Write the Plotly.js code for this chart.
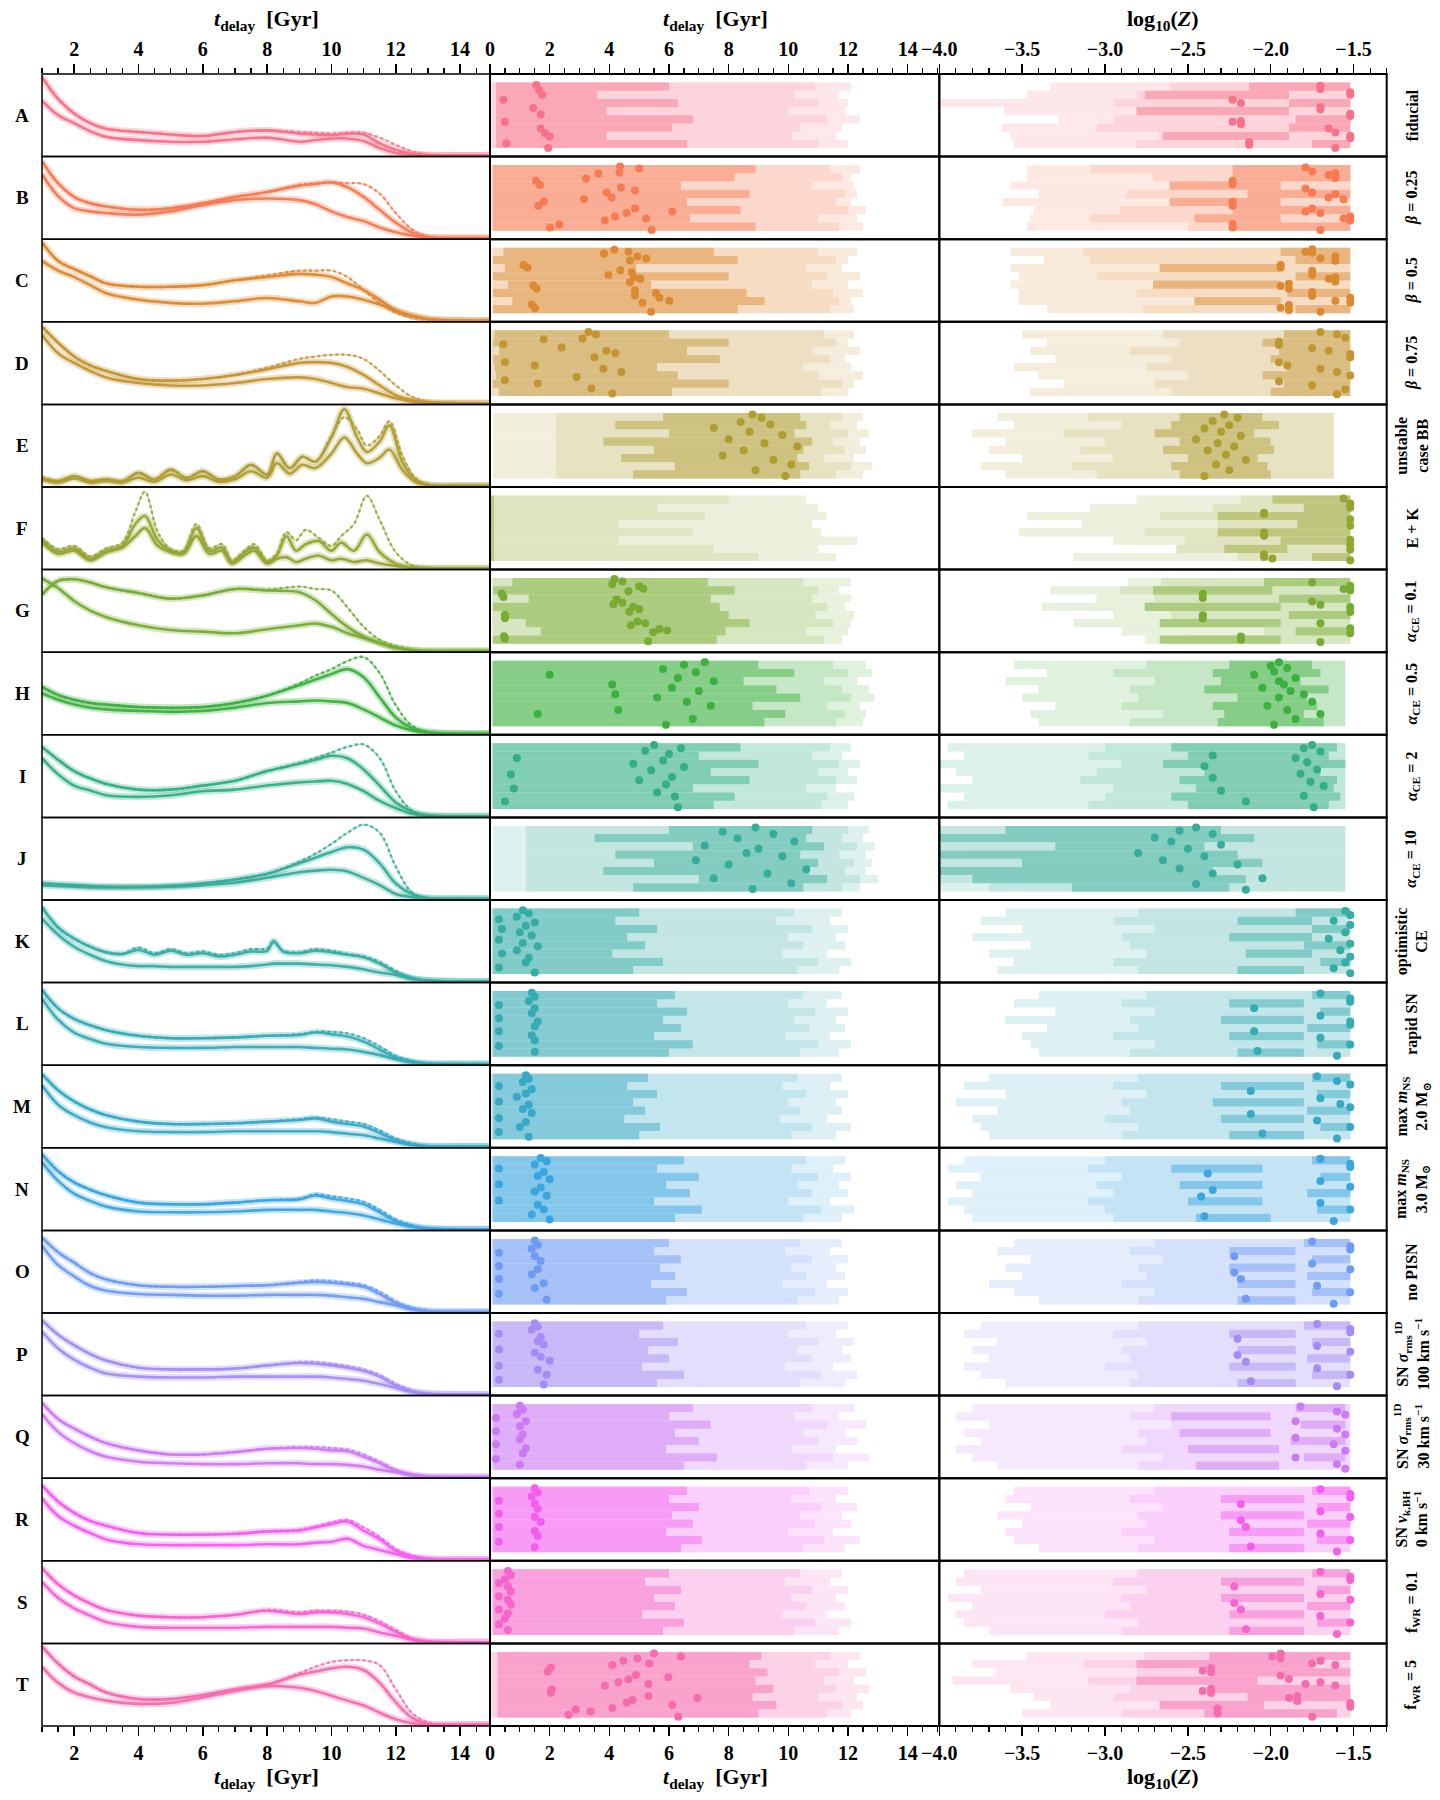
<!DOCTYPE html>
<html>
<head>
<meta charset="utf-8">
<script src="https://cdn.plot.ly/plotly-3.0.1.min.js"></script>
<style>body{margin:0;background:#fff}</style>
</head>
<body>
<div id="fig" style="width:1440px;height:1800px"></div>
<script>
var rows = ['A','B','C','D','E','F','G','H','I','J','K','L','M','N','O','P','Q','R','S','T'];
var labels = [
  'fiducial', '<i>β</i> = 0.25', '<i>β</i> = 0.5', '<i>β</i> = 0.75', 'unstable<br>case BB', 'E + K',
  '<i>α</i><sub>CE</sub> = 0.1', '<i>α</i><sub>CE</sub> = 0.5', '<i>α</i><sub>CE</sub> = 2', '<i>α</i><sub>CE</sub> = 10',
  'optimistic<br>CE', 'rapid SN', 'max <i>m</i><sub>NS</sub><br>2.0 M<sub>⊙</sub>', 'max <i>m</i><sub>NS</sub><br>3.0 M<sub>⊙</sub>',
  'no PISN', 'SN <i>σ</i><sub>rms</sub><sup>1D</sup><br>100 km s<sup>−1</sup>', 'SN <i>σ</i><sub>rms</sub><sup>1D</sup><br>30 km s<sup>−1</sup>',
  'SN <i>v</i><sub>k,BH</sub><br>0 km s<sup>−1</sup>', 'f<sub>WR</sub> = 0.1', 'f<sub>WR</sub> = 5'
];
var colors = ['#f77189','#f67a52','#dc8932','#c39532','#ae9d31','#97a431','#77ab31','#3cb03e','#34ae87','#36ad9a',
              '#36ada4','#37abb4','#38a9c5','#3aa5df','#6e9bf4','#a48cf4','#cc7af4','#f35ef0','#f565cc','#f66bad'];

// left column: delay-time distributions (0-100 = panel height)
var tGrid = [1,1.5,2,2.5,3,4,5,6,7,8,9,9.5,10,10.5,11,11.5,12,12.5,13,14,15];
var eGrid = [1,1.5,2,2.5,3,3.5,4,4.5,5,5.5,6,6.5,7,7.5,8,8.3,8.7,9.1,9.5,10,10.4,10.8,11.1,11.5,11.8,12.2,12.6,13,14,15];
var fGrid = [1,1.5,2,2.5,3,3.5,3.9,4.2,4.6,5,5.4,5.8,6.2,6.6,6.9,7.3,7.6,8,8.3,8.6,8.9,9.2,9.6,10,10.3,10.7,11.1,11.5,12,12.5,13,14,15];
var kGrid = [1,1.5,2,2.5,3,3.5,4,4.5,5,5.5,6,6.5,7,7.5,8,8.2,8.5,9,9.5,10,10.5,11,11.5,12,12.5,13,14,15];
var leftGrid = [tGrid,tGrid,tGrid,tGrid,eGrid,fGrid,tGrid,tGrid,tGrid,tGrid,kGrid,tGrid,tGrid,tGrid,tGrid,tGrid,tGrid,tGrid,tGrid,tGrid];

var leftUp = [
  [97,70,52,40,33,29,26,24,29,31,27,26,25,27,26,15,7,2,0.5,0,0],
  [95,68,51,43,39,35,37,43,51,57,65,67,69,63,51,35,19,7,1,0,0],
  [97,74,64,55,46,42,42,44,50,54,58,57,54,46,38,26,13,6,2,0,0],
  [95,75,58,47,40,30,28,30,35,42,50,51,50,45,35,22,10,4,1,0,0],
  [10,6,12,6,8,6,16,8,20,10,18,8,12,26,14,40,22,36,30,60,95,60,42,55,75,30,8,1,0,0],
  [35,21,25,12,22,28,55,65,35,22,20,50,22,26,8,20,26,8,16,40,22,30,34,22,32,22,42,20,6,1,0,0,0],
  [70,87,89,85,79,72,65,69,77,75,73,63,46,30,18,10,4,1,0,0,0],
  [58,48,42,38,36,33,32,33,38,47,60,67,74,80,70,45,20,7,2,0,0],
  [86,70,56,47,40,33,33,38,44,56,65,70,75,72,58,38,17,6,1,0,0],
  [19,18,17,16,15,15,16,19,24,31,44,51,58,64,61,44,19,6,1,0,0],
  [92,67,53,43,36,34,39,33,38,33,35,31,33,37,38,50,37,35,38,36,33,30,22,11,4,1,0,0],
  [92,69,56,48,42,35,32,32,33,35,36,39,37,34,28,18,8,3,0.5,0,0],
  [90,70,56,46,39,31,28,28,29,31,33,35,31,28,25,17,8,3,0.5,0,0],
  [93,72,58,49,42,33,31,31,33,36,37,42,38,35,31,21,10,4,1,0,0],
  [92,74,61,48,40,33,31,31,32,33,36,37,36,34,31,22,11,4,1,0,0],
  [92,74,61,50,42,33,31,31,32,36,39,38,36,33,29,22,11,4,1,0,0],
  [92,72,60,50,42,33,28,28,31,35,36,35,33,32,25,17,8,3,0.5,0,0],
  [92,72,58,48,42,33,31,31,32,35,36,40,44,47,36,25,11,4,1,0,0],
  [92,72,58,48,40,33,31,31,34,39,35,37,37,35,31,23,13,4,1,0,0],
  [97,76,60,50,40,32,32,37,44,50,62,66,70,72,68,52,28,9,1,0,0]
];
var leftLo = [
  [68,50,40,30,23,19,17,17,20,22,17,19,21,21,18,9,3,1,0,0,0],
  [79,52,37,33,31,29,33,41,47,49,47,42,33,26,21,13,7,3,0.5,0,0],
  [74,62,54,44,34,26,22,21,24,28,24,22,30,30,26,20,12,6,2,0,0],
  [85,62,50,40,32,25,22,22,25,30,32,30,25,20,18,12,6,2,0.5,0,0],
  [8,4,9,4,6,4,10,5,14,7,12,5,8,18,10,28,15,26,22,40,60,40,28,35,45,20,5,1,0,0],
  [33,18,22,10,20,26,40,50,28,20,18,40,18,22,6,16,22,6,12,14,8,12,16,10,12,8,10,6,3,1,0,0,0],
  [90,78,62,50,42,32,26,24,22,27,32,34,30,22,16,10,4,1,0,0,0],
  [50,42,36,32,30,28,27,28,32,38,40,41,40,38,30,20,10,4,1,0,0],
  [72,52,38,32,26,24,26,31,33,38,42,43,44,40,31,19,10,3,0.5,0,0],
  [17,16,15,14,14,14,15,17,20,26,33,35,36,34,26,17,6,2,0,0,0],
  [78,58,43,33,25,21,19,19,18,18,18,18,18,19,21,22,22,22,21,20,18,15,11,8,3,1,0,0],
  [81,55,39,31,25,21,20,20,21,21,21,20,19,18,15,11,6,2,0,0,0],
  [76,52,39,30,24,19,18,18,19,19,19,19,18,16,14,10,6,2,0,0,0],
  [83,60,44,35,28,22,21,21,22,24,24,24,22,20,17,12,7,3,0.5,0,0],
  [82,58,44,32,26,22,21,20,20,21,21,21,20,18,16,12,8,3,0.5,0,0],
  [78,57,43,33,26,22,21,21,22,22,22,22,21,19,17,13,8,3,0.5,0,0],
  [78,56,42,32,25,19,17,16,16,17,17,16,16,15,13,9,6,2,0,0,0],
  [76,54,42,33,25,19,18,18,18,19,19,21,22,26,17,12,7,2,0,0,0],
  [75,55,42,33,25,19,18,18,18,19,19,19,19,18,17,12,8,3,0,0,0],
  [72,52,40,34,30,26,27,34,42,48,46,42,36,30,24,15,7,2,0,0,0]
];
var leftTail = [
  [97,70,52,40,33,29,26,24,29,31,29,28,27,28,28,22,13,5,1,0,0],
  [95,68,51,43,39,35,37,43,51,57,66,68,69,68,67,55,31,11,2,0,0],
  [97,74,64,55,46,42,42,44,50,56,62,62,62,54,38,22,10,4,1,0,0],
  [95,75,58,47,40,30,28,30,35,44,55,58,60,60,55,40,22,8,2,0,0],
  [10,6,12,6,8,6,16,8,20,10,18,8,12,26,14,40,22,36,30,62,85,70,50,62,80,38,10,2,0,0],
  [38,24,28,15,25,32,70,95,45,24,22,55,25,30,10,22,30,10,18,45,35,48,38,28,40,55,90,60,20,4,1,0,0],
  [70,87,89,85,79,72,65,69,77,76,80,77,75,54,30,14,6,2,0,0,0],
  [58,48,42,38,36,33,32,33,38,47,62,72,80,90,95,75,35,10,2,0,0],
  [86,70,56,47,40,33,33,38,44,56,66,72,79,86,89,72,31,7,1,0,0],
  [19,18,17,16,15,15,16,19,24,31,46,56,68,82,92,82,40,8,1,0,0],
  [92,67,53,43,36,34,42,35,40,35,37,33,35,40,41,48,38,36,40,38,34,31,24,13,5,1,0,0],
  [92,69,56,48,42,35,32,32,33,35,37,40,40,38,32,22,10,4,1,0,0],
  [90,70,56,46,39,31,28,28,29,31,34,36,34,31,28,20,10,4,1,0,0],
  [93,72,58,49,42,33,31,31,33,36,38,43,41,38,34,24,12,5,1,0,0],
  [92,74,61,48,40,33,31,31,32,33,37,39,38,36,33,25,13,5,1,0,0],
  [92,74,61,50,42,33,31,31,32,36,40,40,38,35,31,24,13,5,1,0,0],
  [92,72,60,50,42,33,28,28,31,35,37,37,36,34,28,19,9,3,1,0,0],
  [92,72,58,48,42,33,31,31,32,35,37,41,46,49,40,28,13,5,1,0,0],
  [92,72,58,48,40,33,31,31,34,40,37,39,39,38,34,26,15,5,1,0,0],
  [97,76,60,50,40,32,32,37,44,50,64,72,78,80,80,74,44,15,3,0,0]
];

// middle column: delay-time intervals, 8 bars per row (top to bottom), Gyr
var midLightStart = [0.05,0.05,0.08,0.05,0.1,0.1,0.08,0.05,0.05,0.1,0.05,0.05,0.05,0.05,0.05,0.05,0.05,0.05,0.05,0.05];
var midMidStart = [0.05,0.05,0.08,0.05,2.2,0.1,0.08,0.05,0.05,1.2,0.05,0.05,0.05,0.05,0.05,0.05,0.05,0.05,0.05,0.05];
var midDarkStart = [
  [0.2,0.2,0.2,0.2,0.2,0.2,0.2,0.2],
  [0.1,0.1,0.1,0.1,0.1,0.1,0.1,0.1],
  [0.45,0.1,0.5,0.1,0.6,0.1,0.75,0.1],
  [0.15,0.1,0.3,0.1,0.15,0.2,0.1,0.3],
  [5.8,4.2,6.0,3.8,5.5,4.4,6.2,4.8],
  [0.02,0.02,0.02,0.02,0.02,0.02,0.02,0.02],
  [0.75,0.1,1.3,0.1,0.5,1.2,1.7,0.1],
  [0.1,0.1,0.1,0.1,0.1,0.1,0.1,0.1],
  [0.1,0.1,0.1,0.1,0.1,0.1,0.1,0.1],
  [6.0,3.5,6.8,4.2,5.5,3.8,7.0,4.8],
  [0.1,0.1,0.1,0.1,0.1,0.1,0.1,0.1],
  [0.1,0.1,0.1,0.1,0.1,0.1,0.1,0.1],
  [0.1,0.1,0.1,0.1,0.1,0.1,0.1,0.1],
  [0.1,0.1,0.1,0.1,0.1,0.1,0.1,0.1],
  [0.1,0.1,0.1,0.1,0.1,0.1,0.1,0.1],
  [0.1,0.1,0.1,0.1,0.1,0.1,0.1,0.1],
  [0.1,0.1,0.1,0.1,0.1,0.1,0.1,0.1],
  [0.1,0.1,0.1,0.1,0.1,0.1,0.1,0.1],
  [0.1,0.1,0.1,0.1,0.1,0.1,0.1,0.1],
  [0.25,0.25,0.25,0.25,0.25,0.25,0.25,0.25]
];
var midDarkEnd = [
  [6.0,3.6,6.3,3.9,6.8,6.1,3.9,6.6],
  [8.9,8.2,6.4,8.7,6.6,8.4,6.7,8.9],
  [7.5,8.3,4.9,8.0,5.4,8.6,9.2,8.3],
  [6.0,8.0,6.6,7.7,5.6,6.3,8.0,6.1],
  [10.4,10.6,10.2,10.8,10.5,10.3,10.7,10.4],
  [0.14,0.14,0.14,0.14,0.14,0.14,0.14,0.14],
  [7.3,8.2,7.4,7.7,8.0,8.7,7.9,7.6],
  [9.0,10.2,8.5,9.6,10.4,8.8,9.9,9.2],
  [8.4,7.0,9.0,7.4,8.7,6.8,8.2,7.5],
  [10.8,10.6,11.2,10.4,11.0,10.7,11.3,10.5],
  [5.0,4.2,5.6,4.6,5.2,4.1,5.8,4.8],
  [6.2,5.6,6.6,5.8,6.4,5.5,6.8,6.0],
  [5.3,4.6,5.6,4.8,5.2,4.5,5.7,5.0],
  [6.5,5.6,7.0,5.9,6.7,5.5,7.1,6.2],
  [6.0,5.5,6.4,5.7,6.2,5.4,6.6,5.9],
  [5.8,5.0,6.3,5.3,6.0,5.1,6.5,5.6],
  [6.8,6.0,7.4,6.2,7.0,5.9,7.6,6.5],
  [6.6,6.0,7.0,6.1,6.8,5.9,7.1,6.4],
  [6.0,5.2,6.4,5.5,6.2,5.1,6.5,5.8],
  [9.1,8.7,9.3,8.9,9.5,8.8,9.6,9.0]
];
var midMidEnd = [
  [10.9,10.2,11.0,10.0,11.3,10.4,10.1,11.0],
  [11.4,11.8,10.8,11.9,11.6,12.0,11.0,11.7],
  [11.0,11.6,10.6,11.3,10.8,11.5,11.7,11.4],
  [11.2,11.6,10.8,11.4,10.5,11.0,11.8,11.1],
  [11.8,11.4,12.0,11.5,11.9,11.2,12.1,11.6],
  [8.0,5.6,7.2,4.3,6.8,4.3,7.5,9.0],
  [10.5,11.0,10.8,11.3,10.9,11.5,10.6,11.2],
  [11.5,12.0,11.2,11.8,12.1,11.3,11.9,11.6],
  [11.4,10.8,11.7,11.0,11.6,10.6,11.3,11.1],
  [12.0,11.8,12.3,11.7,12.2,11.9,12.4,11.8],
  [10.2,9.6,10.8,10.0,10.5,9.8,11.0,10.3],
  [10.5,10.0,10.9,10.2,10.7,9.9,11.0,10.4],
  [10.3,9.8,10.6,10.0,10.4,9.7,10.8,10.1],
  [10.6,10.1,11.0,10.3,10.8,10.0,11.1,10.5],
  [10.4,9.9,10.8,10.1,10.6,9.8,10.9,10.3],
  [10.6,10.0,11.0,10.3,10.8,9.9,11.1,10.4],
  [10.8,10.2,11.3,10.5,11.0,10.1,11.5,10.6],
  [10.7,10.1,11.1,10.4,10.9,10.0,11.2,10.5],
  [10.4,9.9,10.8,10.1,10.6,9.8,10.9,10.2],
  [11.4,10.9,11.7,11.2,11.6,11.0,11.8,11.3]
];
var midLightEnd = [
  [12.1,11.7,12.0,11.9,12.4,11.8,11.6,12.0],
  [12.4,12.1,12.2,12.3,12.1,12.6,12.3,12.5],
  [12.3,12.0,11.8,12.4,12.0,12.5,12.1,12.2],
  [12.2,12.0,12.4,11.9,12.1,12.5,12.2,12.0],
  [12.5,12.3,12.7,12.4,12.6,12.2,12.8,12.5],
  [10.6,11.0,11.3,10.8,11.1,12.3,11.0,11.6],
  [12.1,11.7,12.1,11.9,12.2,12.1,12.0,11.8],
  [12.6,12.8,12.3,12.7,12.9,12.4,12.6,12.5],
  [12.1,11.8,12.4,12.0,12.3,11.6,12.2,12.0],
  [12.7,12.5,12.9,12.6,12.8,12.6,13.0,12.4],
  [11.8,11.4,12.0,11.6,11.9,11.3,12.1,11.7],
  [11.8,11.3,12.0,11.6,11.9,11.4,12.1,11.7],
  [11.8,11.4,12.0,11.6,11.8,11.3,12.1,11.6],
  [11.9,11.5,12.1,11.7,12.0,11.4,12.2,11.8],
  [11.8,11.4,12.0,11.6,11.9,11.3,12.0,11.7],
  [12.0,11.6,12.2,11.8,12.1,11.5,12.3,11.9],
  [12.2,11.7,12.6,11.9,12.3,11.6,12.7,12.0],
  [12.0,11.6,12.3,11.8,12.1,11.5,12.4,11.9],
  [11.8,11.4,12.0,11.6,11.9,11.3,12.1,11.7],
  [12.4,12.0,12.6,12.2,12.7,12.3,12.5,12.1]
];
var midDotX = [
  [1.55,1.65,1.75,0.45,1.45,1.7,0.5,1.7,1.85,2.0,0.55,1.95],
  [4.36,5.0,4.34,3.63,3.22,1.54,1.68,4.39,4.86,3.91,4.08,3.15,1.81,1.62,4.86,4.58,6.11,4.19,5.23,3.85,2.32,2.01,5.42],
  [3.82,4.17,4.64,4.69,4.94,5.24,1.12,1.26,3.97,4.37,4.75,4.83,5.04,4.69,1.45,1.56,4.86,4.86,5.56,5.68,6.01,5.11,1.4,1.51,5.4],
  [3.3,3.55,3.1,1.8,0.45,2.4,3.9,4.2,3.5,0.5,1.5,3.8,4.4,2.9,0.5,1.6,3.4,4.1],
  [8.8,9.1,8.4,9.4,7.5,8.7,9.8,8.0,9.2,10.3,8.5,7.8,9.5,10.1,8.9,9.9],
  [],
  [4.17,4.1,4.44,5.0,5.14,4.64,0.39,0.45,4.24,4.13,4.44,4.8,4.67,5.0,0.5,0.5,4.94,4.72,5.2,5.47,5.68,5.94,0.47,0.5,5.3],
  [7.2,6.5,5.8,6.9,2.0,6.3,7.5,4.1,6.1,7.0,4.2,5.6,6.6,7.4,4.3,1.6,6.8,5.9],
  [5.5,6.4,5.2,6.0,0.9,5.8,4.8,6.5,5.4,0.7,6.1,5.0,5.9,0.8,5.6,6.2,0.5,6.3],
  [8.9,7.8,9.5,8.3,10.2,7.2,9.0,8.6,9.8,6.9,8.0,10.6,9.3,7.5,10.1,8.8],
  [1.1,1.3,0.9,0.3,1.5,1.2,0.4,1.0,1.4,0.3,1.1,1.6,0.9,0.4,1.3,1.2,0.3,1.5],
  [1.4,1.5,1.3,0.3,1.5,1.4,0.3,1.6,1.5,0.3,1.4,1.5,0.3,1.5],
  [1.2,1.3,1.1,0.3,1.4,1.2,0.9,0.3,1.3,1.1,1.4,0.3,1.2,1.0,0.3,1.3],
  [1.7,1.9,1.5,0.3,1.8,1.6,2.0,0.3,1.7,1.5,1.9,0.3,1.6,1.8,1.4,2.0],
  [1.5,1.6,1.4,0.3,1.5,1.7,0.3,1.6,1.4,0.3,1.8,1.5,0.3,1.9],
  [1.5,1.6,1.4,0.3,1.7,1.6,1.8,0.3,1.5,1.7,2.0,0.3,1.6,1.9,0.3,1.8],
  [1.0,1.1,0.9,0.2,1.2,1.0,0.2,1.1,1.0,0.2,1.2,1.1,0.2,1.0],
  [1.5,1.6,1.4,0.3,1.5,1.6,0.3,1.5,1.7,0.3,1.5,1.6,0.3,1.5],
  [0.6,0.7,0.5,0.3,0.6,0.7,0.3,0.6,0.7,0.3,0.6,0.5,0.3,0.6],
  [5.5,6.4,4.94,4.47,5.34,4.1,2.04,1.93,4.89,4.64,4.3,5.31,3.85,5.98,2.07,2.04,5.31,6.95,4.78,4.58,6.11,4.1,2.87,3.37,2.63,6.31]
];
var midDotY = [
  [-0.2,0.4,1.0,1.6,2.6,3.4,4.3,5.1,5.7,6.1,6.9,7.5],
  [-0.34,-0.1,0.39,0.52,1.13,1.41,1.94,2.22,2.59,2.83,3.44,3.65,3.93,4.46,4.78,5.35,5.15,5.76,6.0,6.25,6.74,7.1,7.43],
  [0.22,-0.26,-0.02,1.06,0.58,0.82,1.62,1.9,2.82,2.26,2.5,3.1,3.3,3.7,4.1,4.5,4.7,5.3,5.02,5.62,5.98,6.22,6.42,6.9,7.3],
  [-0.3,0.0,0.5,0.6,1.2,1.6,2.0,2.3,2.8,3.4,3.8,4.2,4.6,5.2,5.6,6.0,6.6,7.2],
  [-0.3,0.1,0.6,0.9,1.3,1.8,2.2,2.7,3.2,3.6,4.1,4.7,5.2,5.8,6.5,7.2],
  [],
  [-0.38,0.24,-0.1,0.5,0.81,1.1,1.4,1.8,2.1,2.7,2.5,2.98,3.6,3.3,4.0,4.4,4.8,5.26,5.0,6.1,5.7,5.9,6.6,6.9,7.2],
  [-0.3,0.0,0.5,0.9,1.2,1.6,2.0,2.4,2.8,3.2,3.6,4.0,4.5,5.0,5.5,6.0,6.6,7.3],
  [-0.3,0.1,0.4,0.8,1.3,1.6,2.0,2.4,2.8,3.3,3.6,4.0,4.5,5.0,5.5,6.0,6.6,7.3],
  [-0.3,0.2,0.5,1.0,1.4,1.9,2.3,2.8,3.2,3.7,4.2,4.8,5.3,5.9,6.5,7.2],
  [-0.3,0.1,0.5,0.8,1.2,1.6,2.0,2.4,2.8,3.3,3.7,4.1,4.6,5.0,5.5,6.1,6.7,7.3],
  [-0.3,0.2,0.7,1.2,1.6,2.2,2.8,3.2,3.8,4.4,4.9,5.5,6.2,6.9],
  [-0.3,0.1,0.5,1.0,1.4,1.9,2.3,2.9,3.3,3.8,4.3,4.9,5.4,6.0,6.6,7.2],
  [-0.3,0.1,0.5,1.0,1.4,1.9,2.3,2.9,3.3,3.8,4.3,4.9,5.4,6.0,6.6,7.2],
  [-0.3,0.2,0.7,1.2,1.6,2.2,2.8,3.2,3.8,4.4,4.9,5.5,6.2,6.9],
  [-0.3,0.1,0.5,1.0,1.4,1.9,2.3,2.9,3.3,3.8,4.3,4.9,5.4,6.0,6.6,7.2],
  [-0.3,0.2,0.7,1.2,1.6,2.2,2.8,3.2,3.8,4.4,4.9,5.5,6.2,6.9],
  [-0.3,0.2,0.7,1.2,1.6,2.2,2.8,3.2,3.8,4.4,4.9,5.5,6.2,6.9],
  [-0.3,0.2,0.7,1.2,1.6,2.2,2.8,3.2,3.8,4.4,4.9,5.5,6.2,6.9],
  [-0.3,0.06,0.3,0.58,0.9,1.1,1.39,1.9,2.31,2.83,3.19,3.4,3.64,2.6,4.08,4.48,4.88,5.12,5.36,5.68,5.97,6.33,6.53,6.77,7.17,7.41]
];

// right column: log10(Z) intervals, 8 bars per row (top to bottom)
var zEnd = [-1.52,-1.52,-1.52,-1.52,-1.62,-1.52,-1.52,-1.55,-1.55,-1.55,-1.52,-1.52,-1.52,-1.52,-1.52,-1.52,-1.52,-1.52,-1.52,-1.52];
var zLightStart = [
  [-3.33,-3.47,-3.99,-3.61,-3.28,-3.62,-3.57,-3.55],
  [-3.47,-3.47,-3.57,-3.40,-3.62,-3.43,-3.45,-3.47],
  [-3.57,-3.37,-3.57,-3.52,-3.57,-3.52,-3.52,-3.35],
  [-3.50,-3.35,-3.45,-3.30,-3.55,-3.40,-3.25,-3.45],
  [-3.65,-3.55,-3.80,-3.60,-3.70,-3.50,-3.75,-3.60],
  [-2.81,-3.09,-3.47,-3.14,-3.52,-2.95,-2.46,-3.19],
  [-2.86,-3.33,-3.05,-3.38,-2.95,-3.19,-2.90,-2.76],
  [-3.55,-3.35,-3.60,-3.40,-3.50,-3.30,-3.45,-3.40],
  [-3.95,-3.85,-4.00,-3.90,-3.80,-4.00,-3.85,-3.95],
  [-4.00,-4.00,-4.00,-4.00,-4.00,-4.00,-4.00,-4.00],
  [-3.60,-3.75,-3.50,-3.80,-3.45,-3.70,-3.55,-3.65],
  [-3.40,-3.55,-3.30,-3.60,-3.35,-3.50,-3.45,-3.40],
  [-3.70,-3.85,-3.60,-3.90,-3.65,-3.80,-3.75,-3.70],
  [-3.85,-3.95,-3.75,-3.90,-3.80,-3.95,-3.85,-3.80],
  [-3.55,-3.65,-3.45,-3.60,-3.50,-3.70,-3.55,-3.40],
  [-3.75,-3.85,-3.65,-3.80,-3.70,-3.85,-3.75,-3.60],
  [-3.80,-3.90,-3.70,-3.85,-3.75,-3.90,-3.80,-3.65],
  [-3.55,-3.60,-3.45,-3.65,-3.50,-3.60,-3.55,-3.40],
  [-3.85,-3.90,-3.75,-3.95,-3.80,-3.90,-3.85,-3.70],
  [-3.47,-3.80,-3.66,-3.92,-3.57,-3.43,-3.33,-3.50]
];
var zMidStart = [
  [-2.61,-2.81,-2.95,-2.77,-2.95,-3.05,-2.67,-2.81],
  [-3.09,-2.71,-2.61,-2.87,-2.57,-2.91,-3.09,-2.50],
  [-3.13,-3.09,-2.67,-3.05,-2.71,-2.81,-2.46,-2.77],
  [-2.65,-2.55,-2.85,-2.60,-2.75,-2.50,-2.70,-2.60],
  [-3.10,-2.90,-3.25,-3.00,-3.15,-2.95,-3.20,-3.05],
  [-2.18,-2.35,-2.67,-2.32,-2.76,-2.52,-2.57,-2.20],
  [-2.66,-2.91,-2.70,-2.76,-2.60,-2.66,-2.04,-2.50],
  [-2.75,-2.95,-2.70,-2.85,-2.80,-2.90,-2.65,-2.85],
  [-3.00,-3.10,-2.90,-3.05,-3.15,-2.95,-3.00,-3.10],
  [-4.00,-3.90,-4.00,-3.80,-4.00,-3.90,-4.00,-3.70],
  [-2.80,-2.95,-2.70,-2.90,-2.85,-2.75,-2.95,-2.80],
  [-2.75,-2.90,-2.70,-2.85,-2.80,-2.95,-2.70,-2.85],
  [-2.80,-2.95,-2.75,-2.90,-2.85,-3.00,-2.80,-2.90],
  [-3.00,-3.10,-2.90,-3.05,-2.95,-3.10,-3.00,-2.95],
  [-2.70,-2.85,-2.65,-2.80,-2.75,-2.90,-2.70,-2.80],
  [-2.80,-2.95,-2.75,-2.90,-2.85,-3.00,-2.80,-2.85],
  [-2.70,-2.85,-2.60,-2.80,-2.75,-2.90,-2.65,-2.80],
  [-2.70,-2.85,-2.65,-2.80,-2.75,-2.90,-2.70,-2.80],
  [-2.80,-2.95,-2.75,-2.90,-2.85,-3.00,-2.80,-2.90],
  [-2.76,-3.13,-2.81,-3.10,-2.85,-2.95,-2.67,-2.90]
];
var zDarkStart = [
  [-2.13,-2.76,-1.89,-2.81,-1.85,-1.89,-2.65,-1.75],
  [-2.23,-2.23,-2.61,-2.14,-2.61,-2.23,-2.46,-2.23],
  [-1.94,-1.85,-2.67,-1.85,-2.71,-1.90,-2.46,-1.85],
  [-1.92,-2.05,-1.95,-2.00,-1.90,-2.05,-1.92,-2.00],
  [-2.55,-2.60,-2.70,-2.55,-2.65,-2.50,-2.60,-2.55],
  [-1.99,-1.80,-2.32,-1.84,-2.32,-1.94,-2.28,-1.75],
  [-2.04,-2.71,-1.95,-2.76,-1.89,-2.67,-1.85,-2.67],
  [-2.25,-2.35,-2.30,-2.40,-2.20,-2.35,-2.28,-2.32],
  [-2.60,-2.50,-2.65,-2.40,-2.55,-2.45,-2.60,-2.50],
  [-3.60,-4.00,-3.30,-4.00,-3.50,-4.00,-3.80,-3.20],
  [-1.85,-2.20,-1.75,-2.25,-1.80,-2.15,-1.70,-2.20],
  [-1.75,-2.25,-1.70,-2.30,-1.78,-2.25,-1.72,-2.20],
  [-1.75,-2.30,-1.72,-2.35,-1.78,-2.30,-1.70,-2.25],
  [-1.75,-2.60,-1.70,-2.55,-1.78,-2.50,-1.72,-2.45],
  [-1.80,-2.25,-1.75,-2.25,-1.78,-2.20,-1.75,-2.20],
  [-1.80,-2.25,-1.75,-2.20,-1.78,-2.25,-1.75,-2.20],
  [-1.85,-2.60,-1.82,-2.55,-1.88,-2.50,-1.80,-2.45],
  [-1.75,-2.30,-1.72,-2.30,-1.78,-2.25,-1.72,-2.25],
  [-1.75,-2.30,-1.72,-2.30,-1.78,-2.25,-1.72,-2.25],
  [-2.37,-2.81,-2.37,-2.81,-2.37,-2.14,-2.67,-2.40]
];
var zDarkEnd = [
  [-1.52,-1.89,-1.52,-1.89,-1.52,-1.52,-1.89,-1.52],
  [-1.52,-1.52,-1.94,-1.52,-1.94,-1.52,-1.94,-1.52],
  [-1.52,-1.52,-1.94,-1.52,-1.94,-1.52,-1.94,-1.52],
  [-1.52,-1.52,-1.52,-1.52,-1.52,-1.52,-1.52,-1.52],
  [-2.05,-1.95,-2.10,-2.00,-1.98,-2.08,-2.02,-2.00],
  [-1.52,-1.52,-1.52,-1.52,-1.52,-1.52,-1.90,-1.52],
  [-1.52,-1.99,-1.52,-1.94,-1.52,-1.94,-1.52,-1.94],
  [-1.75,-1.70,-1.82,-1.65,-1.78,-1.72,-1.80,-1.68],
  [-1.60,-1.65,-1.55,-1.70,-1.60,-1.62,-1.58,-1.65],
  [-2.30,-2.10,-2.40,-2.20,-2.05,-2.35,-2.15,-2.25],
  [-1.52,-1.75,-1.52,-1.75,-1.52,-1.75,-1.52,-1.80],
  [-1.52,-1.80,-1.52,-1.80,-1.52,-1.80,-1.52,-1.80],
  [-1.52,-1.80,-1.52,-1.80,-1.52,-1.80,-1.52,-1.80],
  [-1.52,-2.05,-1.52,-2.05,-1.52,-2.05,-1.52,-2.00],
  [-1.52,-1.85,-1.52,-1.85,-1.52,-1.85,-1.52,-1.85],
  [-1.52,-1.85,-1.52,-1.85,-1.52,-1.85,-1.52,-1.85],
  [-1.55,-2.00,-1.55,-2.00,-1.55,-1.95,-1.55,-1.95],
  [-1.52,-1.80,-1.52,-1.80,-1.52,-1.80,-1.52,-1.80],
  [-1.52,-1.80,-1.52,-1.80,-1.52,-1.80,-1.52,-1.80],
  [-1.52,-1.75,-1.52,-2.08,-1.52,-1.52,-2.04,-1.60]
];
var zDotX = [
  [-1.70,-1.70,-1.52,-1.52,-2.23,-2.18,-1.70,-1.70,-1.52,-1.52,-2.23,-2.18,-2.18,-1.65,-1.61,-1.52,-1.52,-2.13,-2.13,-1.61],
  [-1.79,-1.75,-1.65,-1.61,-1.61,-2.23,-2.23,-1.79,-1.75,-1.65,-1.61,-1.56,-2.23,-2.23,-1.79,-1.75,-1.70,-1.56,-1.52,-1.52,-2.23,-2.23,-1.70],
  [-1.79,-1.75,-1.75,-1.70,-1.61,-1.61,-1.94,-1.94,-1.75,-1.75,-1.65,-1.61,-1.61,-1.94,-1.89,-1.89,-1.75,-1.75,-1.61,-1.52,-1.52,-1.94,-1.89,-1.89,-1.70],
  [-1.70,-1.60,-1.55,-1.95,-1.95,-1.75,-1.65,-1.52,-1.52,-1.95,-1.90,-1.70,-1.60,-1.52,-1.95,-1.75,-1.55,-1.60],
  [-2.28,-2.20,-2.35,-2.25,-2.40,-2.30,-2.18,-2.45,-2.32,-2.22,-2.38,-2.27,-2.15,-2.33,-2.25,-2.40],
  [-1.56,-1.52,-1.52,-2.04,-2.04,-1.52,-1.52,-2.04,-2.04,-1.52,-1.52,-1.52,-2.04,-2.04,-1.99,-1.52],
  [-1.75,-1.56,-1.52,-1.52,-2.41,-2.41,-1.75,-1.70,-1.52,-1.52,-2.41,-2.41,-1.70,-1.52,-1.52,-2.18,-2.18,-1.70],
  [-1.95,-2.00,-1.90,-1.98,-2.10,-1.85,-1.95,-1.92,-2.05,-1.88,-1.80,-1.95,-1.75,-2.02,-1.90,-1.70,-1.85,-1.98],
  [-1.75,-1.80,-1.70,-2.35,-1.85,-1.78,-2.40,-1.72,-1.82,-2.35,-1.76,-1.68,-2.30,-1.80,-2.15,-1.74],
  [-2.45,-2.55,-2.35,-2.70,-2.60,-2.30,-2.50,-2.80,-2.40,-2.65,-2.20,-2.55,-2.35,-2.05,-2.45,-2.15],
  [-1.55,-1.52,-1.62,-1.52,-1.55,-1.65,-1.52,-1.58,-1.52,-1.55,-1.62,-1.52],
  [-1.70,-1.52,-1.52,-2.10,-1.70,-1.52,-1.52,-2.10,-1.70,-1.52,-2.08,-1.60],
  [-1.72,-1.60,-1.52,-2.12,-1.70,-1.58,-1.52,-2.12,-1.72,-1.52,-2.05,-1.60],
  [-1.70,-1.52,-1.52,-2.38,-1.70,-1.52,-2.35,-2.42,-1.70,-1.52,-2.40,-1.62],
  [-1.75,-1.52,-1.52,-2.22,-1.75,-1.52,-2.22,-2.18,-1.72,-1.52,-2.15,-1.62],
  [-1.72,-1.52,-1.52,-2.20,-1.72,-1.52,-2.20,-2.15,-1.72,-1.52,-2.12,-1.60],
  [-1.82,-1.60,-1.55,-1.85,-1.60,-1.55,-1.85,-1.62,-1.55,-1.85,-1.60,-1.55],
  [-1.70,-1.52,-1.52,-2.18,-1.70,-1.52,-2.18,-2.15,-1.70,-1.52,-2.12,-1.60],
  [-1.70,-1.52,-1.52,-2.22,-1.70,-1.52,-2.22,-2.18,-1.70,-1.52,-2.15,-1.60],
  [-1.99,-1.94,-1.94,-1.75,-1.70,-1.61,-2.41,-2.36,-2.36,-1.94,-1.89,-1.79,-1.70,-1.61,-2.41,-2.36,-2.36,-1.89,-1.84,-1.84,-1.52,-1.52,-2.32,-2.32,-1.75]
];
var zDotY = [
  [-0.1,0.3,0.7,1.0,1.6,2.0,2.5,2.8,3.3,3.6,4.3,4.2,4.6,5.1,5.6,6.0,6.3,6.8,7.1,7.5],
  [-0.2,0.27,0.72,0.48,1.08,1.41,1.82,2.35,2.83,3.44,3.04,3.65,3.97,4.46,5.15,4.78,5.35,6.0,5.76,6.25,6.7,7.1,7.43],
  [-0.02,-0.3,0.1,0.78,0.58,1.1,1.62,1.9,2.3,2.82,3.3,3.1,3.62,4.18,3.9,4.5,4.9,5.38,5.98,5.62,6.18,6.82,6.5,7.1,7.3],
  [-0.3,0.0,0.4,0.9,1.3,1.7,2.0,2.4,2.8,3.4,3.8,4.2,4.6,5.0,5.7,6.2,6.7,7.3],
  [-0.3,0.1,0.5,1.0,1.4,1.8,2.3,2.7,3.2,3.6,4.1,4.6,5.2,5.8,6.5,7.2],
  [-0.13,0.48,1.0,1.6,1.8,2.4,3.2,4.0,4.4,4.9,5.5,6.1,6.7,7.0,7.2,7.4],
  [0.02,0.82,0.42,1.02,1.42,1.94,2.34,2.74,3.02,3.62,4.02,4.42,5.02,5.62,6.22,6.62,7.02,7.3],
  [-0.3,0.1,0.4,0.8,1.2,1.6,2.0,2.4,2.8,3.2,3.6,4.0,4.5,5.0,5.5,6.0,6.6,7.3],
  [-0.3,0.1,0.5,1.0,1.3,1.8,2.3,2.7,3.2,3.7,4.2,4.7,5.3,5.9,6.6,7.3],
  [-0.3,0.1,0.5,0.9,1.4,1.8,2.3,2.8,3.2,3.7,4.2,4.7,5.3,5.9,6.6,7.3],
  [-0.2,0.3,1.0,1.5,2.4,3.2,3.8,4.6,5.4,6.1,6.8,7.4],
  [-0.2,0.4,0.8,1.6,2.5,3.2,3.6,4.4,5.2,6.0,6.8,7.4],
  [-0.2,0.4,0.8,1.6,2.5,3.2,3.6,4.4,5.2,6.0,6.8,7.4],
  [-0.2,0.4,0.8,1.6,2.5,3.2,3.6,4.4,5.2,6.0,6.8,7.4],
  [-0.2,0.4,0.8,1.6,2.5,3.2,3.6,4.4,5.2,6.0,6.8,7.4],
  [-0.2,0.4,0.8,1.6,2.5,3.2,3.6,4.4,5.2,6.0,6.8,7.4],
  [-0.2,0.4,0.8,1.6,2.5,3.2,3.6,4.4,5.2,6.0,6.8,7.4],
  [-0.2,0.4,0.8,1.6,2.5,3.2,3.6,4.4,5.2,6.0,6.8,7.4],
  [-0.2,0.4,0.8,1.6,2.5,3.2,3.6,4.4,5.2,6.0,6.8,7.4],
  [0.06,-0.3,0.26,0.9,0.58,1.1,1.79,1.47,1.99,2.39,2.79,3.4,3.19,3.6,4.28,4.0,4.52,5.12,4.88,5.48,5.72,6.2,6.4,7.0,7.4]
];
var barIdx = [0,1,2,3,4,5,6,7];

// ---- layout geometry (pixels) ----
var W = 1440, H = 1800, top0 = 74, rowH = 82.6;
var xL = [42/W, 490/W], xM = [490/W, 939.3/W], xR = [939.3/W, 1386.7/W];
var serif = 'Liberation Serif, DejaVu Serif, serif';

function tint(hex, a) {
  var r = parseInt(hex.slice(1,3),16), g = parseInt(hex.slice(3,5),16), b = parseInt(hex.slice(5,7),16);
  return 'rgb(' + Math.round(255-(255-r)*a) + ',' + Math.round(255-(255-g)*a) + ',' + Math.round(255-(255-b)*a) + ')';
}
function hbars(starts, ends, col, xa, ya) {
  return {type:'bar', orientation:'h', y: barIdx, base: starts,
    x: ends.map(function(e, j){ return e - starts[j]; }),
    width: 1, marker:{color: col, line:{width:0}}, xaxis: xa, yaxis: ya, hoverinfo:'skip'};
}
function same(v) { return barIdx.map(function(){ return v; }); }

var data = [];
var layout = {
  width: W, height: H, margin:{l:0, r:0, t:0, b:0},
  paper_bgcolor:'#fff', plot_bgcolor:'rgba(0,0,0,0)',
  showlegend:false, hovermode:false, barmode:'overlay',
  font:{family: serif, color:'#000'},
  shapes: [], annotations: []
};

for (var i = 0; i < 20; i++) {
  var c = colors[i];
  var yl = i === 0 ? 'y' : 'y' + (i + 1);
  var yb = 'y' + (21 + i);
  var d = [1 - (top0 + rowH*(i+1))/H, 1 - (top0 + rowH*i)/H];
  layout[i === 0 ? 'yaxis' : 'yaxis' + (i + 1)] = {domain:d, range:[-1.5, 101], visible:false, anchor:'x', fixedrange:true};
  layout['yaxis' + (21 + i)] = {domain:d, range:[8.54, -1.54], visible:false, anchor:'x3', fixedrange:true};

  // left: distributions
  var xs = leftGrid[i];
  data.push({x: xs, y: leftTail[i], xaxis:'x', yaxis: yl, mode:'lines',
    line:{color:c, width:1.5, shape:'spline'}, opacity:0.45, hoverinfo:'skip'});
  data.push({x: xs, y: leftTail[i], xaxis:'x', yaxis: yl, mode:'lines',
    line:{color:c, width:2.4, shape:'spline', dash:'dot'}, opacity:0.85, hoverinfo:'skip'});
  [leftLo[i], leftUp[i]].forEach(function(v){
    data.push({x: xs, y: v, xaxis:'x', yaxis: yl, mode:'lines',
      line:{color:c, width:7, shape:'spline'}, opacity:0.3, hoverinfo:'skip'});
    data.push({x: xs, y: v, xaxis:'x', yaxis: yl, mode:'lines',
      line:{color:c, width:2.6, shape:'spline'}, opacity:0.95, hoverinfo:'skip'});
  });

  // middle: delay-time intervals
  data.push(hbars(same(midLightStart[i]), midLightEnd[i], tint(c, 0.17), 'x3', yb));
  data.push(hbars(same(midMidStart[i]), midMidEnd[i], tint(c, 0.3), 'x3', yb));
  data.push(hbars(midDarkStart[i], midDarkEnd[i], tint(c, 0.62), 'x3', yb));
  data.push({x: midDotX[i], y: midDotY[i], xaxis:'x3', yaxis: yb, mode:'markers',
    marker:{color:c, size:8}, hoverinfo:'skip', cliponaxis:false});

  // right: metallicity intervals
  data.push(hbars(zLightStart[i], same(zEnd[i]), tint(c, 0.17), 'x5', yb));
  data.push(hbars(zMidStart[i], same(zEnd[i]), tint(c, 0.3), 'x5', yb));
  data.push(hbars(zDarkStart[i], zDarkEnd[i], tint(c, 0.62), 'x5', yb));
  data.push({x: zDotX[i], y: zDotY[i], xaxis:'x5', yaxis: yb, mode:'markers',
    marker:{color:c, size:8}, hoverinfo:'skip', cliponaxis:false});

  // panel frames
  var py0 = d[0], py1 = d[1];
  layout.shapes.push({type:'rect', xref:'paper', yref:'paper', x0:xL[0], x1:xL[1], y0:py0, y1:py1, line:{color:'#000', width:1.5}});
  layout.shapes.push({type:'rect', xref:'paper', yref:'paper', x0:xM[0], x1:xM[1], y0:py0, y1:py1, line:{color:'#000', width:2}});
  layout.shapes.push({type:'rect', xref:'paper', yref:'paper', x0:xR[0], x1:xR[1], y0:py0, y1:py1, line:{color:'#000', width:2}});

  var yc = (py0 + py1) / 2;
  layout.annotations.push({xref:'paper', yref:'paper', x:22/W, y:yc, xanchor:'center', yanchor:'middle',
    text:'<b>' + rows[i] + '</b>', showarrow:false, font:{family:serif, size:19, color:'#000'}});
  layout.annotations.push({xref:'paper', yref:'paper', x:1412/W, y:yc, xanchor:'center', yanchor:'middle',
    text:'<b>' + labels[i] + '</b>', textangle:-90, showarrow:false, font:{family:serif, size:16, color:'#000'}});
}

// axes for ticks: top set anchored on row A, bottom set on row T
var tickStyle = function(extra) {
  var o = {ticks:'outside', ticklen:9, tickwidth:1.5, tickcolor:'#000', showgrid:false, zeroline:false,
    showline:false, fixedrange:true,
    tickfont:{family:serif, size:20, color:'#000', weight:'bold'},
    minor:{ticks:'outside', ticklen:5, tickwidth:1.2, tickcolor:'#000', dtick:0.5, tick0:0, showgrid:false}};
  for (var k in extra) o[k] = extra[k];
  return o;
};
layout.xaxis  = tickStyle({domain:xL, range:[1, 14.93], dtick:2, tick0:0, anchor:'y20', side:'bottom'});
layout.xaxis2 = tickStyle({domain:xL, range:[1, 14.93], dtick:2, tick0:0, anchor:'y', side:'top'});
layout.xaxis3 = tickStyle({domain:xM, range:[0, 15.06], dtick:2, tick0:0, anchor:'y40', side:'bottom'});
layout.xaxis4 = tickStyle({domain:xM, range:[0, 15.06], dtick:2, tick0:0, anchor:'y21', side:'top'});
layout.xaxis5 = tickStyle({domain:xR, range:[-4, -1.3], dtick:0.5, tick0:-4, tickformat:'.1f', anchor:'y40', side:'bottom'});
layout.xaxis6 = tickStyle({domain:xR, range:[-4, -1.3], dtick:0.5, tick0:-4, tickformat:'.1f', anchor:'y21', side:'top'});
layout.xaxis5.minor.dtick = 0.1;
layout.xaxis6.minor.dtick = 0.1;
data.push({x:[null], y:[null], xaxis:'x2', yaxis:'y', mode:'markers', hoverinfo:'skip'});
data.push({x:[null], y:[null], xaxis:'x4', yaxis:'y21', mode:'markers', hoverinfo:'skip'});
data.push({x:[null], y:[null], xaxis:'x6', yaxis:'y21', mode:'markers', hoverinfo:'skip'});

// axis titles
var tTitle = '<b><i>t</i><sub>delay</sub>  [Gyr]</b>';
var zTitle = '<b>log<sub>10</sub>(<i>Z</i>)</b>';
[[266, tTitle], [715, tTitle], [1163, zTitle]].forEach(function(t){
  layout.annotations.push({xref:'paper', yref:'paper', x:t[0]/W, y:1 - 20/H, xanchor:'center', yanchor:'middle',
    text:t[1], showarrow:false, font:{family:serif, size:22, color:'#000'}});
  layout.annotations.push({xref:'paper', yref:'paper', x:t[0]/W, y:1 - 1778/H, xanchor:'center', yanchor:'middle',
    text:t[1], showarrow:false, font:{family:serif, size:22, color:'#000'}});
});

Plotly.newPlot('fig', data, layout, {displayModeBar:false, staticPlot:true});
</script>
</body>
</html>
